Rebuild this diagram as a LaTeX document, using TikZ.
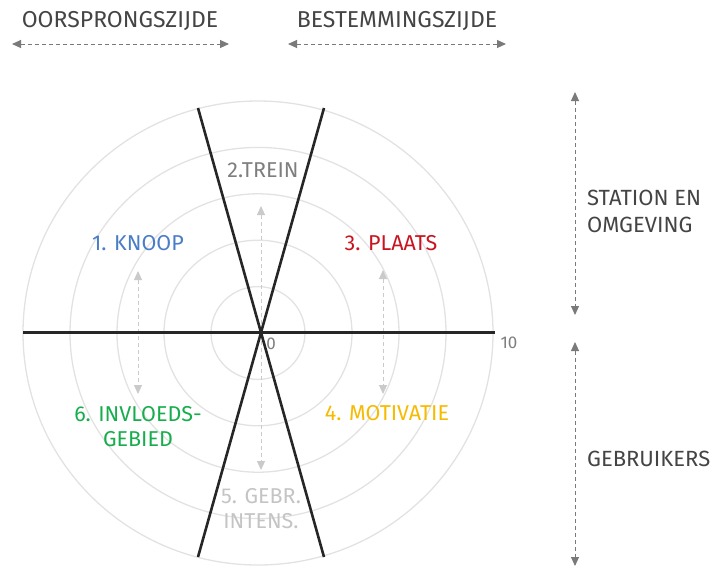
\documentclass[tikz,border=0pt]{standalone}
\usepackage{fontspec}
\setmainfont{Fira Sans}
\usetikzlibrary{arrows.meta}
\definecolor{txtc}{HTML}{444444}
\definecolor{ringc}{HTML}{E2E2E2}
\definecolor{guidec}{HTML}{CACACA}
\definecolor{sidec}{HTML}{7A7A7A}
\definecolor{axisc}{HTML}{262626}
\definecolor{knoopc}{HTML}{4A7CC8}
\definecolor{treinc}{HTML}{7E7E7E}
\definecolor{plaatsc}{HTML}{C8141E}
\definecolor{motivc}{HTML}{F6BA00}
\definecolor{gebrc}{HTML}{C4C4C4}
\definecolor{invlc}{HTML}{17AD4C}
\begin{document}
\begin{tikzpicture}[x=1pt,y=-1pt,
  lab/.style={font=\fontsize{21.5}{25}\selectfont, inner sep=0pt, anchor=center, align=center},
  sidelab/.style={font=\fontsize{22}{27}\selectfont, inner sep=0pt, anchor=west, align=left, text=txtc},
  ring/.style={draw=ringc, line width=1.3pt},
  axis/.style={draw=axisc, line width=2.6pt},
  guide/.style={draw=guidec, line width=1pt, dash pattern=on 4pt off 3pt,
    {Triangle[length=9pt,width=8pt]}-{Triangle[length=9pt,width=8pt]}},
  sidearrow/.style={draw=sidec, line width=1pt, dash pattern=on 4pt off 3pt,
    {Triangle[length=9pt,width=8pt]}-{Triangle[length=9pt,width=8pt]}},
  num/.style={font=\fontsize{17}{20}\selectfont, inner sep=0pt, text=treinc}]
\useasboundingbox (0,0) rectangle (725,579);
% rings
\foreach \k in {1,...,5}
  \draw[ring] (258,333) ellipse [x radius={47pt*\k}, y radius={46.4pt*\k}];
% coordinates
\coordinate (O) at (261,332.5);
\coordinate (tl) at (198,108);
\coordinate (tr) at (324,108);
\coordinate (bl) at (198,557);
\coordinate (br) at (324,557);
\coordinate (hl) at (23,332.5);
\coordinate (hr) at (495,332.5);
\coordinate (ct) at (261,206);
\coordinate (cb) at (261,470);
\coordinate (lt) at (138,271);
\coordinate (lb) at (138,394);
\coordinate (rt) at (383,270);
\coordinate (rb) at (383,394);
% guides
\draw[guide] (ct) -- (cb);
\draw[guide] (lt) -- (lb);
\draw[guide] (rt) -- (rb);
% axes
\draw[axis] (tl) -- (br);
\draw[axis] (tr) -- (bl);
\draw[axis] (hl) -- (hr);
% labels
\node[lab, text=knoopc] (knoop) at (138,243) {1. KNOOP};
\node[lab, text=treinc] (trein) at (263,170) {2.TREIN};
\node[lab, text=plaatsc] (plaats) at (391,243) {3. PLAATS};
\node[lab, text=motivc] (motiv) at (387,413) {4. MOTIVATIE};
\node[lab, text=gebrc] (gebr) at (261,509) {5. GEBR.\\INTENS.};
\node[lab, text=invlc] (invl) at (138,427) {6. INVLOEDS-\\GEBIED};
\node[num] (zero) at (271,344) {0};
\node[num] (ten) at (509,343) {10};
% top headers
\node[lab, text=txtc, font=\fontsize{23}{26}\selectfont] (oors) at (120,21) {OORSPRONGSZIJDE};
\node[lab, text=txtc, font=\fontsize{23}{26}\selectfont] (best) at (397,21) {BESTEMMINGSZIJDE};
\coordinate (oa) at (12,44);
\coordinate (ob) at (229,44);
\coordinate (ba) at (288,44);
\coordinate (bb) at (506,44);
\draw[sidearrow] (oa) -- (ob);
\draw[sidearrow] (ba) -- (bb);
% right side
\coordinate (sa) at (575,92);
\coordinate (sb) at (575,315);
\coordinate (ga) at (575,342);
\coordinate (gb) at (575,566);
\draw[sidearrow] (sa) -- (sb);
\draw[sidearrow] (ga) -- (gb);
\node[sidelab] (station) at (587,211) {STATION EN\\OMGEVING};
\node[sidelab] (gebruikers) at (587,459) {GEBRUIKERS};
\end{tikzpicture}
\end{document}
